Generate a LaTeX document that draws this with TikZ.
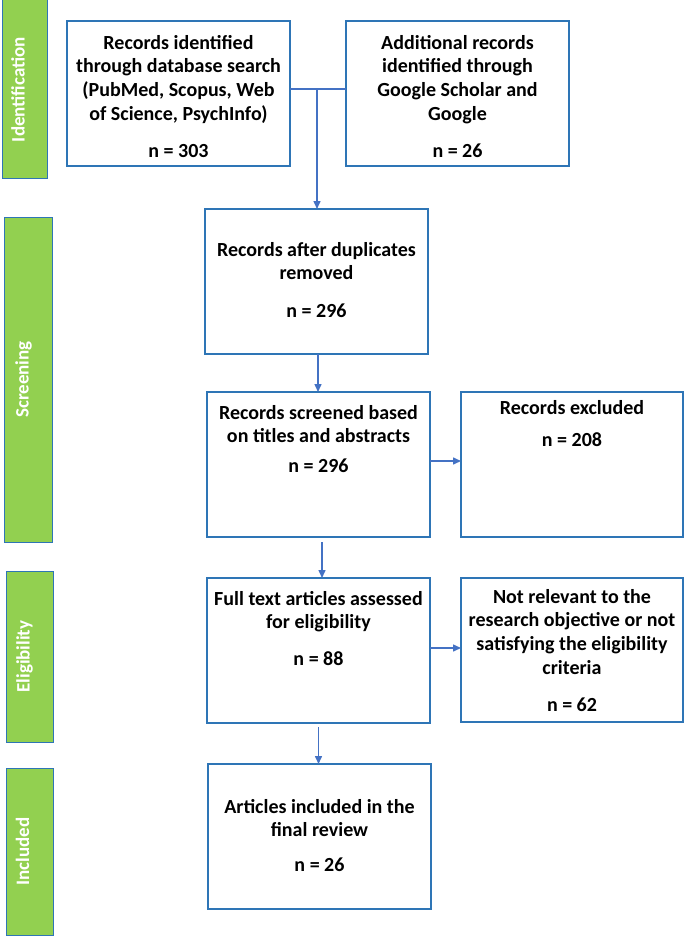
\documentclass[tikz,border=0pt]{standalone}
\usepackage{fontspec}
\setmainfont{Carlito}
\usetikzlibrary{arrows.meta}
\definecolor{boxblue}{HTML}{2E75B6}
\definecolor{arrblue}{HTML}{4472C4}
\definecolor{bargreen}{HTML}{92D050}
\tikzset{
  bar/.style={draw=boxblue, line width=1pt, fill=bargreen, rectangle, inner sep=0pt, outer sep=0pt},
  barlabel/.style={text=white, font=\bfseries\fontsize{19}{22}\selectfont, rotate=90, anchor=base, inner sep=0pt},
  box/.style={draw=boxblue, line width=2pt, rectangle, inner sep=0pt, outer sep=0pt},
  txt/.style={font=\bfseries\fontsize{20}{23.6}\selectfont, align=center, anchor=north, inner sep=0pt},
  conn/.style={draw=arrblue, line width=1.5pt},
  arr/.style={conn, -{Triangle[length=8pt,width=7pt]}}
}
\begin{document}
\begin{tikzpicture}[x=1pt,y=-1pt]
\useasboundingbox (0,0) rectangle (685,936);
% stage bars
\node[bar, minimum width=45pt, minimum height=179pt] (sb1) at (24.5,89.5) {};
\node[bar, minimum width=48pt, minimum height=325pt] (sb2) at (28,379.5) {};
\node[bar, minimum width=47pt, minimum height=171pt] (sb3) at (29.5,656.5) {};
\node[bar, minimum width=47pt, minimum height=167pt] (sb4) at (29.5,851.5) {};
\node[barlabel] (l1) at (24.5,89.5) {Identification};
\node[barlabel] (l2) at (28.5,379.5) {Screening};
\node[barlabel] (l3) at (29.5,656.5) {Eligibility};
\node[barlabel] (l4) at (29,851.5) {Included};
% boxes
\node[box, minimum width=223pt, minimum height=145pt] (b1) at (178.5,93.5) {};
\node[box, minimum width=223pt, minimum height=145pt] (b2) at (457.5,93.5) {};
\node[box, minimum width=223pt, minimum height=145pt] (b3) at (316.5,281.5) {};
\node[box, minimum width=223pt, minimum height=145pt] (b4) at (318.5,464.5) {};
\node[box, minimum width=222pt, minimum height=145pt] (b5) at (572,464.5) {};
\node[box, minimum width=223pt, minimum height=145pt] (b6) at (318.5,650.5) {};
\node[box, minimum width=222pt, minimum height=144pt] (b7) at (572,650) {};
\node[box, minimum width=223pt, minimum height=145pt] (b8) at (319.5,836.5) {};
% texts
\node[txt] (t1) at (178.5,35) {Records identified\\through database search\\(PubMed, Scopus, Web\\of Science, PsychInfo)\\[13.5pt]n = 303};
\node[txt] (t2) at (457.5,35) {Additional records\\identified through\\Google Scholar and\\Google\\[13.5pt]n = 26};
\node[txt] (t3) at (316.5,242) {Records after duplicates\\removed\\[14.5pt]n = 296};
\node[txt] (t4) at (318.5,405) {Records screened based\\on titles and abstracts\\[6.5pt]n = 296};
\node[txt] (t5) at (572,400) {Records excluded\\[8.5pt]n = 208};
\node[txt] (t6) at (318.5,591) {Full text articles assessed\\for eligibility\\[13.5pt]n = 88};
\node[txt] (t7) at (572,589) {Not relevant to the\\research objective or not\\satisfying the eligibility\\criteria\\[13.5pt]n = 62};
\node[txt] (t8) at (319.5,799) {Articles included in the\\final review\\[11.5pt]n = 26};
% connectors
\coordinate (j) at (317,89);
\draw[conn] (b1.east|-j) -- (b2.west|-j);
\draw[arr] (j) -- (j|-b3.north);
\draw[arr] ([xshift=1.5pt]b3.south) -- ([xshift=1.5pt]b3.south|-b4.north);
\draw[arr] ([yshift=3.5pt]b4.east) -- ([yshift=3.5pt]b4.east-|b5.west);
\draw[arr] ([xshift=3.5pt,yshift=-5pt]b4.south) -- ([xshift=3.5pt]b4.south|-b6.north);
\draw[arr] ([yshift=2.5pt]b6.east) -- ([yshift=2.5pt]b6.east-|b7.west);
\draw[arr] ([yshift=-4pt]b6.south) -- (b6.south|-b8.north);
\end{tikzpicture}
\end{document}
